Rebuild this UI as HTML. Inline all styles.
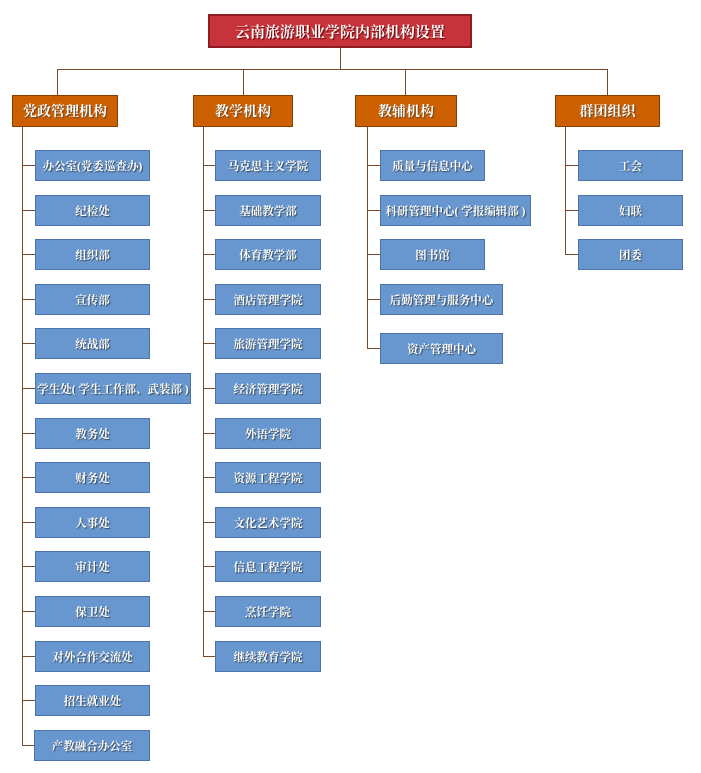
<!DOCTYPE html>
<html><head><meta charset="utf-8"><style>
body{margin:0;width:701px;height:773px;background:#fff;position:relative;overflow:hidden;font-family:"Liberation Serif","Noto Serif CJK SC",serif;}
div{position:absolute;box-sizing:border-box;}
.t{left:208px;top:14px;width:264px;height:34px;background:#c8333b;border:2px solid #8e1c22;color:#fff;font-weight:bold;font-size:15px;display:flex;align-items:center;justify-content:center;text-shadow:1px 1px 1px #600;}
.h{top:95px;height:32px;background:#cc5f00;border:1px solid #8a3e00;color:#fff;font-weight:bold;font-size:14px;display:flex;align-items:center;justify-content:center;text-shadow:1px 1px 1px #642;}
.b{height:31px;background:#6897cf;border:1px solid #4a74a8;color:#fff;font-weight:bold;font-size:11.5px;display:flex;align-items:center;justify-content:center;text-shadow:1px 1px 1px #345;white-space:nowrap;}
.v{width:1px;background:#7a4a2a;}
.l{height:1px;background:#7a4a2a;}
</style></head><body>
<div class="t">云南旅游职业学院内部机构设置</div>
<div class="v" style="left:340px;top:48px;height:21px"></div>
<div class="l" style="left:57px;top:69px;width:551px"></div>
<div class="v" style="left:57px;top:69px;height:26px"></div>
<div class="v" style="left:243px;top:69px;height:26px"></div>
<div class="v" style="left:405px;top:69px;height:26px"></div>
<div class="v" style="left:607px;top:69px;height:26px"></div>
<div class="h" style="left:12px;width:106px">党政管理机构</div>
<div class="h" style="left:193px;width:100px">教学机构</div>
<div class="h" style="left:355px;width:102px">教辅机构</div>
<div class="h" style="left:555px;width:105px">群团组织</div>

<div class="v" style="left:22px;top:127px;height:619px"></div>
<div class="l" style="left:22px;top:165px;width:13px"></div><div class="b" style="left:35px;top:150px;width:115px">办公室(党委巡查办)</div>
<div class="l" style="left:22px;top:210px;width:13px"></div><div class="b" style="left:35px;top:195px;width:115px">纪检处</div>
<div class="l" style="left:22px;top:254px;width:13px"></div><div class="b" style="left:35px;top:239px;width:115px">组织部</div>
<div class="l" style="left:22px;top:299px;width:13px"></div><div class="b" style="left:35px;top:284px;width:115px">宣传部</div>
<div class="l" style="left:22px;top:343px;width:13px"></div><div class="b" style="left:35px;top:328px;width:115px">统战部</div>
<div class="l" style="left:22px;top:388px;width:13px"></div><div class="b" style="left:35px;top:373px;width:156px">学生处( 学生工作部、武装部 )</div>
<div class="l" style="left:22px;top:433px;width:13px"></div><div class="b" style="left:35px;top:418px;width:115px">教务处</div>
<div class="l" style="left:22px;top:477px;width:13px"></div><div class="b" style="left:35px;top:462px;width:115px">财务处</div>
<div class="l" style="left:22px;top:522px;width:13px"></div><div class="b" style="left:35px;top:507px;width:115px">人事处</div>
<div class="l" style="left:22px;top:566px;width:13px"></div><div class="b" style="left:35px;top:551px;width:115px">审计处</div>
<div class="l" style="left:22px;top:611px;width:13px"></div><div class="b" style="left:35px;top:596px;width:115px">保卫处</div>
<div class="l" style="left:22px;top:656px;width:13px"></div><div class="b" style="left:35px;top:641px;width:115px">对外合作交流处</div>
<div class="l" style="left:22px;top:700px;width:13px"></div><div class="b" style="left:35px;top:685px;width:115px">招生就业处</div>
<div class="l" style="left:22px;top:745px;width:13px"></div><div class="b" style="left:34px;top:730px;width:116px">产教融合办公室</div>

<div class="v" style="left:203px;top:127px;height:530px"></div>
<div class="l" style="left:203px;top:165px;width:12px"></div><div class="b" style="left:215px;top:150px;width:106px">马克思主义学院</div>
<div class="l" style="left:203px;top:210px;width:12px"></div><div class="b" style="left:215px;top:195px;width:106px">基础教学部</div>
<div class="l" style="left:203px;top:254px;width:12px"></div><div class="b" style="left:215px;top:239px;width:106px">体育教学部</div>
<div class="l" style="left:203px;top:299px;width:12px"></div><div class="b" style="left:215px;top:284px;width:106px">酒店管理学院</div>
<div class="l" style="left:203px;top:343px;width:12px"></div><div class="b" style="left:215px;top:328px;width:106px">旅游管理学院</div>
<div class="l" style="left:203px;top:388px;width:12px"></div><div class="b" style="left:215px;top:373px;width:106px">经济管理学院</div>
<div class="l" style="left:203px;top:433px;width:12px"></div><div class="b" style="left:215px;top:418px;width:106px">外语学院</div>
<div class="l" style="left:203px;top:477px;width:12px"></div><div class="b" style="left:215px;top:462px;width:106px">资源工程学院</div>
<div class="l" style="left:203px;top:522px;width:12px"></div><div class="b" style="left:215px;top:507px;width:106px">文化艺术学院</div>
<div class="l" style="left:203px;top:566px;width:12px"></div><div class="b" style="left:215px;top:551px;width:106px">信息工程学院</div>
<div class="l" style="left:203px;top:611px;width:12px"></div><div class="b" style="left:215px;top:596px;width:106px">烹饪学院</div>
<div class="l" style="left:203px;top:656px;width:12px"></div><div class="b" style="left:215px;top:641px;width:106px">继续教育学院</div>

<div class="v" style="left:367px;top:127px;height:222px"></div>
<div class="l" style="left:367px;top:165px;width:13px"></div><div class="b" style="left:380px;top:150px;width:105px">质量与信息中心</div>
<div class="l" style="left:367px;top:210px;width:13px"></div><div class="b" style="left:380px;top:195px;width:151px">科研管理中心( 学报编辑部 )</div>
<div class="l" style="left:367px;top:254px;width:13px"></div><div class="b" style="left:380px;top:239px;width:105px">图书馆</div>
<div class="l" style="left:367px;top:299px;width:13px"></div><div class="b" style="left:380px;top:284px;width:123px">后勤管理与服务中心</div>
<div class="l" style="left:367px;top:348px;width:13px"></div><div class="b" style="left:380px;top:333px;width:123px">资产管理中心</div>

<div class="v" style="left:565px;top:127px;height:128px"></div>
<div class="l" style="left:565px;top:165px;width:13px"></div><div class="b" style="left:578px;top:150px;width:105px">工会</div>
<div class="l" style="left:565px;top:210px;width:13px"></div><div class="b" style="left:578px;top:195px;width:105px">妇联</div>
<div class="l" style="left:565px;top:254px;width:13px"></div><div class="b" style="left:578px;top:239px;width:105px">团委</div>
</body></html>
